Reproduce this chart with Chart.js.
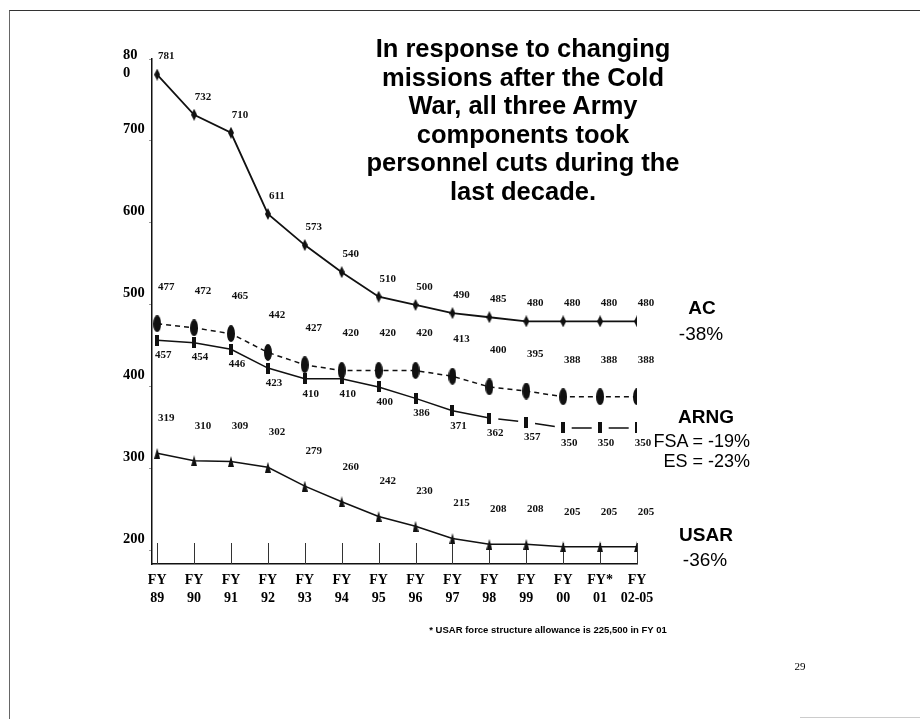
<!DOCTYPE html>
<html>
<head>
<meta charset="utf-8">
<title>Army personnel cuts</title>
<script src="https://cdn.jsdelivr.net/npm/chart.js@4.4.1/dist/chart.umd.min.js"></script>
<style>
  html, body { margin: 0; padding: 0; background: #fff; }
  #page { position: relative; width: 920px; height: 719px; overflow: hidden; }
  #frame { position: absolute; left: 9px; top: 10px; width: 920px; height: 800px;
           border-top: 1.5px solid #333; border-left: 1.5px solid #666; }
  #bottomline { position: absolute; left: 800px; top: 717px; width: 120px; height: 0;
                border-top: 1px solid #ccc; }
  canvas { position: absolute; left: 0; top: 0; }
  .t { position: absolute; font-family: "Liberation Sans", Arial, sans-serif; color: #000;
       white-space: nowrap; text-align: center; }
  #title { left: 353px; top: 34px; width: 340px; font-weight: bold; font-size: 25.5px; line-height: 28.5px; }
  .big { font-weight: bold; font-size: 19px; width: 100px; line-height: 22px; }
  .pct { font-size: 19px; width: 100px; line-height: 22px; }
  .rt { font-size: 18px; line-height: 22px; text-align: right; width: 140px; }
  #note { left: 398px; top: 624px; width: 300px; font-weight: bold; font-size: 9.5px; }
  #pageno { left: 780px; top: 660px; width: 40px; font-family: "Liberation Serif", serif; font-size: 11px; }
</style>
</head>
<body>
<div id="page">
  <div id="frame"></div>
  <div id="bottomline"></div>
  <canvas id="chart" width="920" height="719"></canvas>
  <div class="t" id="title">In response to changing<br>missions after the Cold<br>War, all three Army<br>components took<br>personnel cuts during the<br>last decade.</div>
  <div class="t big" style="left:652px; top:297px;">AC</div>
  <div class="t pct" style="left:651px; top:323px;">-38%</div>
  <div class="t big" style="left:656px; top:406px;">ARNG</div>
  <div class="t rt" style="left:610px; top:430px;">FSA = -19%</div>
  <div class="t rt" style="left:610px; top:450px;">ES = -23%</div>
  <div class="t big" style="left:656px; top:524px;">USAR</div>
  <div class="t pct" style="left:655px; top:549px;">-36%</div>
  <div class="t" id="note">* USAR force structure allowance is 225,500 in FY 01</div>
  <div class="t" id="pageno">29</div>
</div>
<script>
// fiscal years on the x axis (two lines each)
const years = [
  ["FY", "89"], ["FY", "90"], ["FY", "91"], ["FY", "92"], ["FY", "93"], ["FY", "94"], ["FY", "95"],
  ["FY", "96"], ["FY", "97"], ["FY", "98"], ["FY", "99"], ["FY", "00"], ["FY*", "01"], ["FY", "02-05"]
];
// end strength in thousands
const acValues   = [781, 732, 710, 611, 573, 540, 510, 500, 490, 485, 480, 480, 480, 480];
const fsaValues  = [477, 472, 465, 442, 427, 420, 420, 420, 413, 400, 395, 388, 388, 388];
const esValues   = [457, 454, 446, 423, 410, 410, 400, 386, 371, 362, 357, 350, 350, 350];
const usarValues = [319, 310, 309, 302, 279, 260, 242, 230, 215, 208, 208, 205, 205, 205];
const yTicks = [200, 300, 400, 500, 600, 700, 800];

const toPoints = (values) => values.map((v, i) => ({ x: i, y: v }));

// little marker images like the ones on the slide
function marker(w, h, draw) {
  const c = document.createElement("canvas");
  c.width = w;
  c.height = h;
  const g = c.getContext("2d");
  g.fillStyle = "#111";
  draw(g, w, h);
  return c;
}
const diamond = marker(6, 12, (g, w, h) => {
  g.beginPath(); g.moveTo(w / 2, 0); g.lineTo(w, h / 2); g.lineTo(w / 2, h); g.lineTo(0, h / 2); g.fill();
});
const oval = marker(8, 17, (g, w, h) => {
  g.beginPath(); g.ellipse(w / 2, h / 2, w / 2, h / 2, 0, 0, Math.PI * 2); g.fill();
});
const bar = marker(4, 11, (g, w, h) => g.fillRect(0, 0, w, h));
const tri = marker(6, 11, (g, w, h) => {
  g.beginPath(); g.moveTo(w / 2, 0); g.lineTo(w, h); g.lineTo(0, h); g.fill();
});

// value numbers next to every point
const valueLabels = {
  id: "valueLabels",
  afterDatasetsDraw(chart) {
    const ctx = chart.ctx;
    ctx.save();
    ctx.font = 'bold 11px "Liberation Serif", serif';
    ctx.fillStyle = "#111";
    ctx.textAlign = "center";
    ctx.textBaseline = "middle";
    chart.data.datasets.forEach((ds, i) => {
      chart.getDatasetMeta(i).data.forEach((pt, j) => {
        ctx.fillText(ds.data[j].y, pt.x + ds.labelDx, pt.y + ds.labelDy);
      });
    });
    ctx.restore();
  }
};

// short upright tick lines above the x axis
const xMarks = {
  id: "xMarks",
  beforeDatasetsDraw(chart) {
    const xs = chart.scales.x;
    const area = chart.chartArea;
    const ctx = chart.ctx;
    ctx.save();
    ctx.strokeStyle = "#333";
    ctx.lineWidth = 1;
    xs.ticks.forEach((t) => {
      const px = Math.round(xs.getPixelForValue(t.value)) + 0.5;
      ctx.beginPath();
      ctx.moveTo(px, area.bottom);
      ctx.lineTo(px, area.bottom - 21);
      ctx.stroke();
    });
    ctx.restore();
  }
};

new Chart(document.getElementById("chart"), {
  type: "line",
  data: {
    datasets: [
      {
        label: "AC",
        data: toPoints(acValues),
        borderColor: "#111",
        borderWidth: 1.8,
        pointStyle: diamond,
        labelDx: 9,
        labelDy: -18,
      },
      {
        label: "ARNG FSA",
        data: toPoints(fsaValues),
        borderColor: "#111",
        borderWidth: 1.5,
        borderDash: [5, 4],
        pointStyle: oval,
        labelDx: 9,
        labelDy: -37,
      },
      {
        label: "ARNG ES",
        data: toPoints(esValues),
        borderColor: "#111",
        borderWidth: 1.5,
        pointStyle: bar,
        segment: {
          borderDash: (ctx) => (ctx.p0DataIndex >= 9 ? [20, 17] : undefined),
          borderDashOffset: (ctx) => (ctx.p0DataIndex >= 9 ? 28 : 0),
        },
        labelDx: 6,
        labelDy: 15,
      },
      {
        label: "USAR",
        data: toPoints(usarValues),
        borderColor: "#111",
        borderWidth: 1.5,
        pointStyle: tri,
        labelDx: 9,
        labelDy: -35,
      },
    ],
  },
  options: {
    responsive: false,
    animation: false,
    devicePixelRatio: 1,
    layout: { padding: { left: 123, right: 283, top: 59, bottom: 115 } },
    elements: { line: { tension: 0 }, point: { radius: 5 } },
    plugins: { legend: { display: false }, tooltip: { enabled: false } },
    scales: {
      x: {
        type: "linear",
        min: -0.14,
        max: 13,
        bounds: "data",
        afterBuildTicks: (scale) => {
          scale.ticks = years.map((_, i) => ({ value: i }));
        },
        afterFit: (scale) => {
          scale.height = 40;
        },
        grid: { display: false },
        border: { color: "#111", width: 1.5 },
        ticks: {
          autoSkip: false,
          maxRotation: 0,
          padding: 0,
          color: "#000",
          font: { family: '"Liberation Serif", serif', size: 14, weight: "bold", lineHeight: 1.25 },
          callback: (v) => years[v],
        },
      },
      y: {
        min: 184,
        max: 800,
        bounds: "data",
        afterBuildTicks: (scale) => {
          scale.ticks = yTicks.map((v) => ({ value: v }));
        },
        afterFit: (scale) => {
          scale.width = 29;
        },
        grid: { drawOnChartArea: false, tickLength: 3, color: "#999" },
        border: { color: "#111", width: 1.5 },
        ticks: {
          padding: 3,
          crossAlign: "far",
          labelOffset: -12,
          color: "#000",
          font: { family: '"Liberation Serif", serif', size: 14.5, weight: "bold", lineHeight: 1.2 },
          // the slide's top label is wrapped onto two lines and sits lower
          callback: (v) => (v === 800 ? ["", "", "80", "0"] : String(v)),
        },
      },
    },
  },
  plugins: [xMarks, valueLabels],
});
</script>
</body>
</html>
